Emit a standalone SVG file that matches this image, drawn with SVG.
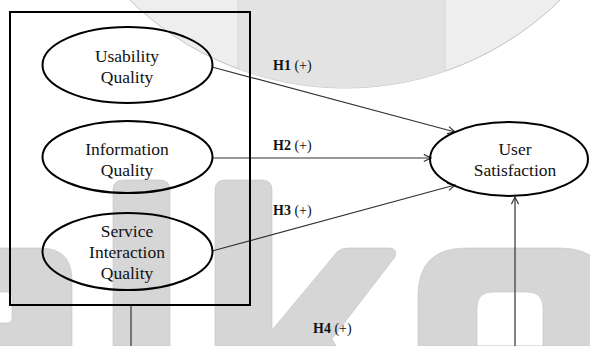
<svg xmlns="http://www.w3.org/2000/svg" width="590" height="346" viewBox="0 0 590 346">
<defs>
<style>
.node{fill:none;stroke:#000;stroke-width:2}
.lbl{font-size:17.5px;fill:#111;text-anchor:middle}
.hyp{font-size:14px;fill:#111}
.conn{fill:none;stroke:#333;stroke-width:1.2}
.wm{fill:#d6d6d6;stroke:#c4c4c4;stroke-width:0.6}
</style>
<marker id="arr" viewBox="0 0 10 10" refX="9" refY="5" markerWidth="9" markerHeight="9" markerUnits="userSpaceOnUse" orient="auto">
<path d="M1,1 L9,5 L1,9" fill="none" stroke="#333" stroke-width="1.3"/>
</marker>
<clipPath id="circ"><circle cx="345" cy="-219" r="307"/></clipPath>
</defs>
<rect width="590" height="346" fill="#fff"/>
<g id="watermark">
<circle cx="345" cy="-219" r="307" fill="#eeeeee" stroke="#aaa" stroke-width="0.7"/>
<rect x="238" y="0" width="207" height="100" fill="#e3e3e3" clip-path="url(#circ)"/>
<line x1="238" y1="0" x2="238" y2="100" stroke="#cfcfcf" stroke-width="0.7" clip-path="url(#circ)"/>
<line x1="445" y1="0" x2="445" y2="100" stroke="#d0d0d0" stroke-width="0.7" clip-path="url(#circ)"/>
<path class="wm" fill-rule="evenodd" d="M-40,346 V260 Q-40,248 -28,248 H40 Q72,248 72,280 V346 Z M-20,292 H6 Q12,292 12,298 V317 Q12,323 6,323 H-20 Z"/>
<path class="wm" d="M113,346 V190 Q113,180 123,180 H160 Q170,180 170,190 V346 Z"/>
<path class="wm" d="M215,346 V190 Q215,180 225,180 H262 Q272,180 272,190 V330 L337,252 Q341,248 348,248 H390 Q398,249 395,257 L332,339 L336,346 Z"/>
<path class="wm" fill-rule="evenodd" d="M418,346 V296 Q418,248 466,248 H560 Q608,248 608,296 V346 Z M477,346 V308 Q477,292 493,292 H527 Q543,292 543,308 V346 Z"/>
</g>
<g id="connectors" font-family="Liberation Serif, DejaVu Serif, serif">
<line class="conn" x1="212" y1="67" x2="455" y2="132" marker-end="url(#arr)"/>
<line class="conn" x1="212" y1="158" x2="431" y2="158" marker-end="url(#arr)"/>
<line class="conn" x1="212" y1="251" x2="455" y2="185" marker-end="url(#arr)"/>
<path class="conn" d="M131,305 V370 H515 V197" marker-end="url(#arr)"/>
<text class="hyp" x="273" y="70"><tspan font-weight="bold">H1</tspan> (+)</text>
<text class="hyp" x="273" y="150"><tspan font-weight="bold">H2</tspan> (+)</text>
<text class="hyp" x="273" y="215"><tspan font-weight="bold">H3</tspan> (+)</text>
<text class="hyp" x="313" y="333"><tspan font-weight="bold">H4</tspan> (+)</text>
</g>
<g id="group-box">
<rect x="10" y="12" width="240" height="293" fill="none" stroke="#000" stroke-width="2"/>
</g>
<g id="nodes" font-family="Liberation Serif, DejaVu Serif, serif">
<g id="usability">
<ellipse class="node" cx="127.5" cy="65" rx="85" ry="38"/>
<text class="lbl" x="127" y="62">Usability</text>
<text class="lbl" x="127" y="83">Quality</text>
</g>
<g id="information">
<ellipse class="node" cx="127.5" cy="157" rx="85" ry="36"/>
<text class="lbl" x="127" y="155">Information</text>
<text class="lbl" x="127" y="176">Quality</text>
</g>
<g id="service">
<ellipse class="node" cx="127.5" cy="251.5" rx="85" ry="38.5"/>
<text class="lbl" x="127" y="237">Service</text>
<text class="lbl" x="127" y="258">Interaction</text>
<text class="lbl" x="127" y="279">Quality</text>
</g>
<g id="user-satisfaction">
<ellipse class="node" cx="509" cy="159" rx="79" ry="37"/>
<text class="lbl" x="515" y="155">User</text>
<text class="lbl" x="515" y="176">Satisfaction</text>
</g>
</g>
</svg>
